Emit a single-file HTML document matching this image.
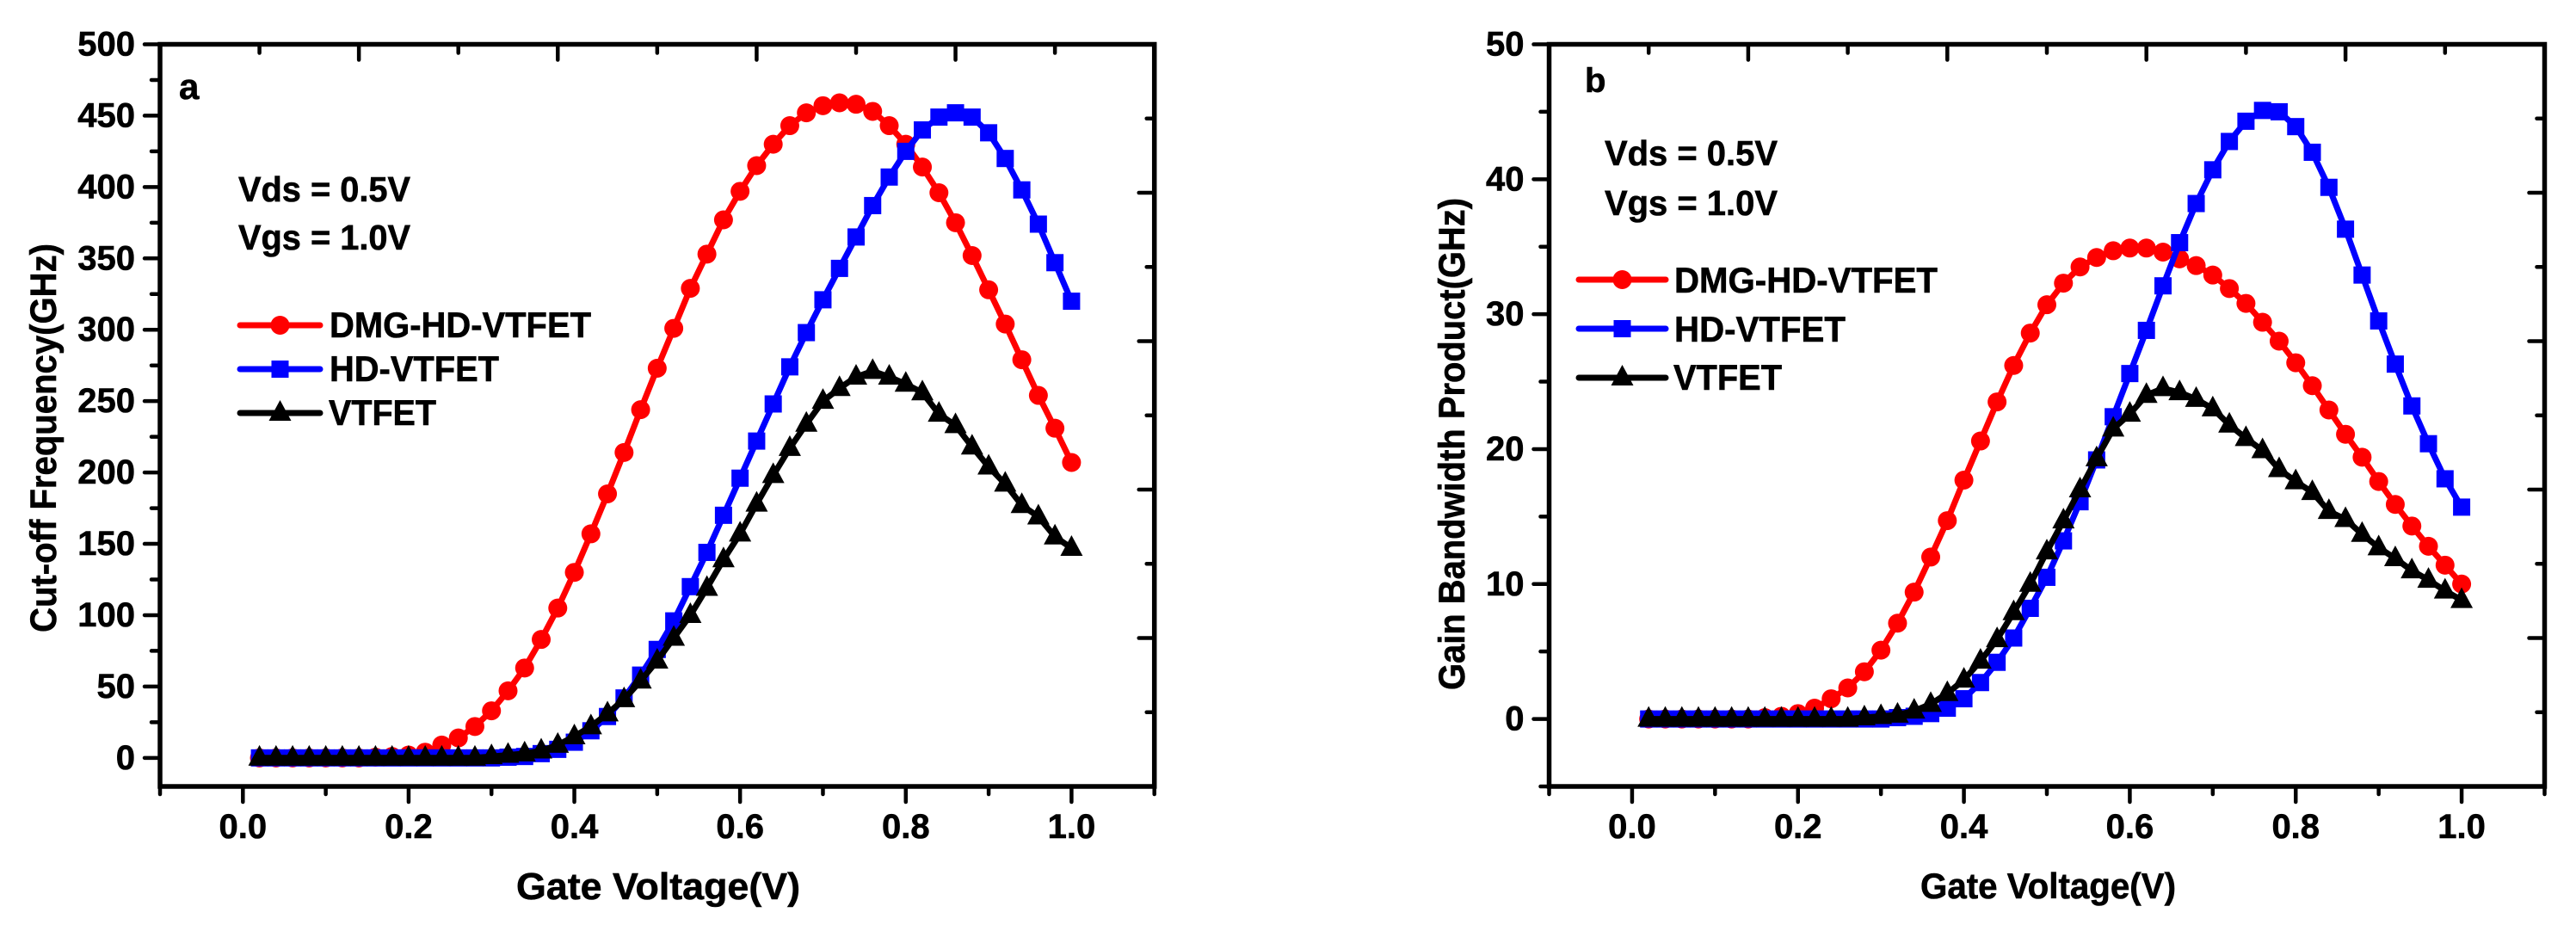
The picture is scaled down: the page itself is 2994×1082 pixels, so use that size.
<!DOCTYPE html>
<html lang="en">
<head>
<meta charset="utf-8">
<title>Cut-off Frequency and Gain Bandwidth Product vs Gate Voltage</title>
<style>
html,body{margin:0;padding:0;background:#fff;}
svg{display:block;}
text{font-family:"Liberation Sans",sans-serif;font-weight:bold;fill:#000;stroke:#000;stroke-width:0.6;}
</style>
</head>
<body>
<svg id="figure" xmlns="http://www.w3.org/2000/svg" width="2994" height="1082" viewBox="0 0 2994 1082">
  <rect width="2994" height="1082" fill="#fff"/>

  <g id="panel-a">
    <text x="208" y="115" font-size="42">a</text>
    <text x="277" y="234" font-size="41" textLength="200" lengthAdjust="spacingAndGlyphs">Vds = 0.5V</text>
    <text x="277" y="290" font-size="41" textLength="200" lengthAdjust="spacingAndGlyphs">Vgs = 1.0V</text>
    <text x="600" y="1045" font-size="44" textLength="330" lengthAdjust="spacingAndGlyphs">Gate Voltage(V)</text>
    <text transform="translate(65 735) rotate(-90)" font-size="43" textLength="452" lengthAdjust="spacingAndGlyphs">Cut-off Frequency(GHz)</text>
    <text x="383" y="392" font-size="42" textLength="304" lengthAdjust="spacingAndGlyphs">DMG-HD-VTFET</text>
    <text x="383" y="443" font-size="42" textLength="197" lengthAdjust="spacingAndGlyphs">HD-VTFET</text>
    <text x="382" y="494" font-size="42" textLength="125" lengthAdjust="spacingAndGlyphs">VTFET</text>
  </g>

  <g id="panel-b">
    <text x="1842" y="107" font-size="40">b</text>
    <text x="1865" y="192" font-size="41" textLength="201" lengthAdjust="spacingAndGlyphs">Vds = 0.5V</text>
    <text x="1865" y="250" font-size="41" textLength="201" lengthAdjust="spacingAndGlyphs">Vgs = 1.0V</text>
    <text x="2232" y="1044" font-size="42" textLength="297" lengthAdjust="spacingAndGlyphs">Gate Voltage(V)</text>
    <text transform="translate(1702 802) rotate(-90)" font-size="43" textLength="572" lengthAdjust="spacingAndGlyphs">Gain Bandwidth Product(GHz)</text>
    <text x="1946" y="340" font-size="42" textLength="306" lengthAdjust="spacingAndGlyphs">DMG-HD-VTFET</text>
    <text x="1946" y="397" font-size="42" textLength="199" lengthAdjust="spacingAndGlyphs">HD-VTFET</text>
    <text x="1945" y="453" font-size="42" textLength="126" lengthAdjust="spacingAndGlyphs">VTFET</text>
  </g>
</svg>

<script>
var gateVoltage = [0.02,0.04,0.06,0.08,0.10,0.12,0.14,0.16,0.18,0.20,0.22,0.24,0.26,0.28,0.30,0.32,0.34,0.36,0.38,0.40,0.42,0.44,0.46,0.48,0.50,0.52,0.54,0.56,0.58,0.60,0.62,0.64,0.66,0.68,0.70,0.72,0.74,0.76,0.78,0.80,0.82,0.84,0.86,0.88,0.90,0.92,0.94,0.96,0.98,1.00];

var cutoffDmg = [0,0,0,0,0,0,0,0.5,1,2,4,9,14,22,33,47,63,83,105,130,157,185,214,244,273,301,329,353,377,397,415,430,443,452,457,459,458,453,443,430,414,396,375,352,328,304,279,254,231,207];
var cutoffHd = [0,0,0,0,0,0,0,0,0,0,0,0,0,0,0,0.5,1,3,6,11,19,29,42,58,76,96,120,144,170,196,222,248,274,298,321,343,365,387,407,425,440,449,452,449,438,420,398,374,347,320];
var cutoffVt = [0,0,0,0,0,0,0,0,0,0,0,0,0,0,1,2,3,5,9,15,22,31,41,54,68,84,100,119,139,157,178,198,217,234,250,259,267,271,267,262,256,241,233,218,204,192,177,169,155,147];

var gainDmg = [0,0,0,0,0,0,0,0.1,0.2,0.4,0.8,1.5,2.3,3.5,5.1,7.1,9.4,12,14.7,17.7,20.6,23.5,26.2,28.6,30.7,32.3,33.5,34.2,34.7,34.9,34.9,34.6,34.1,33.6,32.9,31.9,30.8,29.4,28,26.4,24.7,22.9,21.1,19.4,17.6,15.9,14.3,12.8,11.4,10];
var gainHd = [0,0,0,0,0,0,0,0,0,0,0,0,0,0,0,0.1,0.2,0.4,0.8,1.5,2.7,4.2,6,8.2,10.5,13.2,16.1,19.2,22.4,25.6,28.8,32.1,35.3,38.2,40.7,42.8,44.3,45.1,45,43.9,42,39.4,36.3,32.9,29.5,26.3,23.2,20.4,17.8,15.7];
var gainVt = [0,0,0,0,0,0,0,0,0,0,0,0,0,0.1,0.2,0.3,0.6,1.1,1.9,2.9,4.3,5.9,7.9,10,12.4,14.7,17,19.3,21.5,22.6,24,24.5,24.2,23.7,23,21.8,20.8,19.9,18.5,17.6,16.8,15.4,14.8,13.7,12.7,11.9,11,10.3,9.5,8.8];

var xMajorTicks = [0.0,0.2,0.4,0.6,0.8,1.0];
var xMinorTicks = [-0.1,0.1,0.3,0.5,0.7,0.9,1.1];
var cutoffMajorTicks = [0,50,100,150,200,250,300,350,400,450,500];
var cutoffMinorTicks = [25,75,125,175,225,275,325,375,425,475];
var gainMajorTicks = [0,10,20,30,40,50];
var gainMinorTicks = [-5,5,15,25,35,45];

var SVG_NS = 'http://www.w3.org/2000/svg';
var RED = '#ff0000', BLUE = '#0000ff', BLACK = '#000000';

function make(tag, attrs, parent) {
  var el = document.createElementNS(SVG_NS, tag);
  for (var k in attrs) { el.setAttribute(k, attrs[k]); }
  parent.appendChild(el);
  return el;
}

function drawMarker(kind, cx, cy, color, parent, name) {
  var el;
  if (kind === 'circle') {
    el = make('circle', {cx: cx, cy: cy, r: 11, fill: color}, parent);
  } else if (kind === 'square') {
    el = make('rect', {x: cx - 10, y: cy - 10, width: 20, height: 20, fill: color}, parent);
  } else {
    el = make('polygon', {points: (cx) + ',' + (cy - 15) + ' ' + (cx + 13) + ',' + (cy + 9) + ' ' + (cx - 13) + ',' + (cy + 9), fill: color}, parent);
  }
  
  
}

function drawTick(x1, y1, x2, y2, parent, name) {
  var t = make('line', {x1: x1, y1: y1, x2: x2, y2: y2, stroke: '#000', 'stroke-width': 4.5, 'stroke-linecap': 'round'}, parent);
  
  
}

function drawPanel(cfg) {
  var root = document.getElementById(cfg.id);
  var plot = make('g', {}, root);
  
  

  var xScale = function (v) { return cfg.left + (v - cfg.xMin) / (cfg.xMax - cfg.xMin) * (cfg.right - cfg.left); };
  var yScale = function (v) { return cfg.bottom - (v - cfg.yMin) / (cfg.yMax - cfg.yMin) * (cfg.bottom - cfg.top); };

  // left and bottom axis ticks
  cfg.xMajor.forEach(function (v) {
    drawTick(xScale(v), cfg.bottom, xScale(v), cfg.bottom + 18, plot, 'x-major-tick');
    var lbl = make('text', {x: xScale(v), y: cfg.bottom + 60, 'font-size': 40, 'text-anchor': 'middle'}, plot);
    
    
    lbl.textContent = v.toFixed(1);
  });
  cfg.xMinor.forEach(function (v) {
    drawTick(xScale(v), cfg.bottom, xScale(v), cfg.bottom + 9, plot, 'x-minor-tick');
  });
  cfg.yMajor.forEach(function (v) {
    drawTick(cfg.left, yScale(v), cfg.left - 18, yScale(v), plot, 'y-major-tick');
    var lbl = make('text', {x: cfg.left - 29, y: yScale(v) + 13, 'font-size': 40, 'text-anchor': 'end'}, plot);
    
    
    lbl.textContent = String(v);
  });
  cfg.yMinor.forEach(function (v) {
    drawTick(cfg.left, yScale(v), cfg.left - 10, yScale(v), plot, 'y-minor-tick');
  });

  // top and right axis ticks (inward, independent spacing)
  for (var i = 1; i < 10; i++) {
    var major = i % 2 === 0;
    var fx = cfg.left + (cfg.right - cfg.left) * i / 10;
    var fy = cfg.top + (cfg.bottom - cfg.top) * i / 10;
    drawTick(fx, cfg.top, fx, cfg.top + (major ? 18 : 10), plot, 'top-axis-tick');
    drawTick(cfg.right, fy, cfg.right - (major ? 18 : 9), fy, plot, 'right-axis-tick');
  }

  // plot frame
  var frame = make('rect', {x: cfg.left, y: cfg.top, width: cfg.right - cfg.left, height: cfg.bottom - cfg.top, fill: 'none', stroke: '#000', 'stroke-width': 5.5}, plot);
  
  

  // series
  cfg.series.forEach(function (s) {
    var group = make('g', {}, plot);
    
    
    var pts = s.values.map(function (v, i) { return xScale(gateVoltage[i]).toFixed(1) + ',' + yScale(v).toFixed(1); }).join(' ');
    var line = make('polyline', {points: pts, fill: 'none', stroke: s.color, 'stroke-width': 7, 'stroke-linejoin': 'round'}, group);
    
    
    s.values.forEach(function (v, i) {
      drawMarker(s.marker, xScale(gateVoltage[i]), yScale(v), s.color, group, 'point-' + s.name);
    });
  });

  // legend keys
  cfg.series.forEach(function (s, i) {
    var ky = cfg.legendRows[i];
    var key = make('line', {x1: cfg.legendX1, y1: ky, x2: cfg.legendX2, y2: ky, stroke: s.color, 'stroke-width': 7, 'stroke-linecap': 'round'}, root);
    
    
    drawMarker(s.marker, (cfg.legendX1 + cfg.legendX2) / 2, ky, s.color, root, 'legend-key-marker-' + s.name);
  });
}

drawPanel({
  id: 'panel-a',
  left: 186, right: 1341.7, top: 51.5, bottom: 914,
  xMin: -0.1, xMax: 1.1, yMin: -20, yMax: 500,
  xMajor: xMajorTicks, xMinor: xMinorTicks,
  yMajor: cutoffMajorTicks, yMinor: cutoffMinorTicks,
  legendX1: 279, legendX2: 372, legendRows: [378, 429, 480],
  series: [
    {name: 'dmg-hd-vtfet', values: cutoffDmg, color: RED, marker: 'circle'},
    {name: 'hd-vtfet', values: cutoffHd, color: BLUE, marker: 'square'},
    {name: 'vtfet', values: cutoffVt, color: BLACK, marker: 'triangle'}
  ]
});

drawPanel({
  id: 'panel-b',
  left: 1800.5, right: 2957.5, top: 51.5, bottom: 914,
  xMin: -0.1, xMax: 1.1, yMin: -5, yMax: 50,
  xMajor: xMajorTicks, xMinor: xMinorTicks,
  yMajor: gainMajorTicks, yMinor: gainMinorTicks,
  legendX1: 1835, legendX2: 1936, legendRows: [325, 382, 439],
  series: [
    {name: 'dmg-hd-vtfet', values: gainDmg, color: RED, marker: 'circle'},
    {name: 'hd-vtfet', values: gainHd, color: BLUE, marker: 'square'},
    {name: 'vtfet', values: gainVt, color: BLACK, marker: 'triangle'}
  ]
});
</script>
</body>
</html>
